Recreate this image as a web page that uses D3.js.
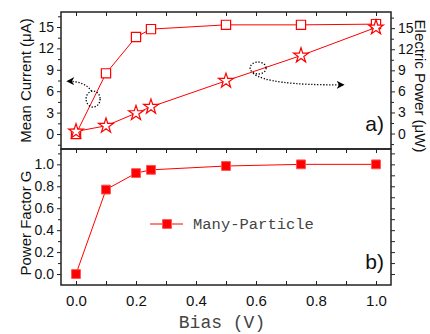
<!DOCTYPE html>
<html>
<head>
<meta charset="utf-8">
<script src="https://cdn.jsdelivr.net/npm/d3@7"></script>
<style>
  body { margin: 0; background: #fff; }
  svg { display: block; }
  .tick text { font-family: "Liberation Sans", Arial, sans-serif; font-size: 14px; fill: #111; }
  .xlab .tick text { font-size: 15px; }
  .domain { display: none; }
  .tick line { stroke: #222; stroke-width: 1; }
</style>
</head>
<body>
<svg id="chart" width="430" height="334"></svg>
<script>
// data
const bias = [0, 0.1, 0.2, 0.25, 0.5, 0.75, 1.0];
const meanCurrent = [0.0, 8.5, 13.6, 14.7, 15.3, 15.3, 15.4];
const electricPower = [0.3, 1.1, 2.9, 3.8, 7.5, 11.1, 15.1];
const powerFactor = [0.0, 0.77, 0.92, 0.95, 0.985, 1.0, 1.0];
const xTicks = [0, 0.2, 0.4, 0.6, 0.8, 1.0];
const topTicks = [0, 3, 6, 9, 12, 15];
const botTicks = [0, 0.2, 0.4, 0.6, 0.8, 1.0];

const svg = d3.select("#chart");
const pL = 61, pR = 391, pT = 12, pM = 149, pB = 285;
const red = "#ff0000";
const sans = "'Liberation Sans', Arial, sans-serif";
const mono = "'Courier New', 'Nimbus Mono PS', FreeMono, 'Liberation Mono', monospace";

const x = d3.scaleLinear().domain([-0.05, 1.05]).range([pL, pR]);
const yL = d3.scaleLinear().domain([-2.1, 17.1]).range([pM, pT]);
const yR = d3.scaleLinear().domain([-2.2, 17.3]).range([pM, pT]);
const yB = d3.scaleLinear().domain([-0.1, 1.14]).range([pB, pM]);

// x ticks: inward at top of each panel and bottom of lower panel
const xMinor = d3.range(0, 1.001, 0.1);
svg.append("g").attr("transform", `translate(0,${pT})`)
  .call(d3.axisTop(x).tickValues(xMinor).tickSize(-4).tickFormat(""));
svg.append("g").attr("transform", `translate(0,${pM})`)
  .call(d3.axisTop(x).tickValues(xMinor).tickSize(-4).tickFormat(""));
svg.append("g").attr("transform", `translate(0,${pB})`)
  .call(d3.axisBottom(x).tickValues(xMinor).tickSize(-4).tickFormat(""));
svg.append("g").attr("class", "xlab").attr("transform", `translate(0,${pB})`)
  .call(d3.axisBottom(x).tickValues(xTicks).tickSize(0).tickPadding(10).tickFormat(d3.format(".1f")));

// left axis top panel
svg.append("g").attr("transform", `translate(${pL},0)`)
  .call(d3.axisLeft(yL).tickValues(topTicks).tickSize(4).tickPadding(3).tickFormat(d3.format("d")));
svg.append("g").attr("transform", `translate(${pL},0)`)
  .call(d3.axisLeft(yL).tickValues(d3.range(-1.5, 17, 3)).tickSize(3).tickFormat(""));
// right axis top panel
svg.append("g").attr("transform", `translate(${pR},0)`)
  .call(d3.axisRight(yR).tickValues(topTicks).tickSize(4).tickPadding(3).tickFormat(d3.format("d")));
svg.append("g").attr("transform", `translate(${pR},0)`)
  .call(d3.axisRight(yR).tickValues(d3.range(-1.5, 17, 3)).tickSize(3).tickFormat(""));
// left axis bottom panel
svg.append("g").attr("transform", `translate(${pL},0)`)
  .call(d3.axisLeft(yB).tickValues(botTicks).tickSize(4).tickPadding(3).tickFormat(d3.format(".1f")));
svg.append("g").attr("transform", `translate(${pL},0)`)
  .call(d3.axisLeft(yB).tickValues(d3.range(0.1, 1.11, 0.2)).tickSize(3).tickFormat(""));
// right axis bottom panel (ticks only)
svg.append("g").attr("transform", `translate(${pR},0)`)
  .call(d3.axisRight(yB).tickValues(d3.range(0, 1.11, 0.1)).tickSize(4).tickFormat(""));

// frames
svg.append("rect").attr("x", pL).attr("y", pT).attr("width", pR - pL).attr("height", pM - pT)
  .attr("fill", "none").attr("stroke", "#222").attr("stroke-width", 1.5);
svg.append("rect").attr("x", pL).attr("y", pM).attr("width", pR - pL).attr("height", pB - pM)
  .attr("fill", "none").attr("stroke", "#222").attr("stroke-width", 1.5);

// lines
const idx = d3.range(bias.length);
const lineL = d3.line().x(i => x(bias[i])).y(i => yL(meanCurrent[i]));
const lineR = d3.line().x(i => x(bias[i])).y(i => yR(electricPower[i]));
const lineB = d3.line().x(i => x(bias[i])).y(i => yB(powerFactor[i]));

svg.append("path").attr("d", lineL(idx)).attr("fill", "none").attr("stroke", red).attr("stroke-width", 1);
svg.append("path").attr("d", lineR(idx)).attr("fill", "none").attr("stroke", red).attr("stroke-width", 1);
svg.append("path").attr("d", lineB(idx)).attr("fill", "none").attr("stroke", red).attr("stroke-width", 1);

const sq = d3.symbol().type(d3.symbolSquare).size(85);
const star = d3.symbol().type(d3.symbolStar).size(68);
const fsq = d3.symbol().type(d3.symbolSquare).size(78);

svg.append("g").selectAll("path").data(idx).join("path")
  .attr("d", sq).attr("transform", i => `translate(${x(bias[i])},${yL(meanCurrent[i])})`)
  .attr("fill", "white").attr("stroke", red).attr("stroke-width", 1.2);
svg.append("g").selectAll("path").data(idx).join("path")
  .attr("d", star).attr("transform", i => `translate(${x(bias[i])},${yR(electricPower[i])})`)
  .attr("fill", "white").attr("stroke", red).attr("stroke-width", 1.2);
svg.append("g").selectAll("path").data(idx).join("path")
  .attr("d", fsq).attr("transform", i => `translate(${x(bias[i])},${yB(powerFactor[i])})`)
  .attr("fill", red).attr("stroke", "#ff5555").attr("stroke-width", 1);

// annotation arrows
const defs = svg.append("defs");
defs.append("marker").attr("id", "ah").attr("viewBox", "0 0 10 10").attr("refX", 8).attr("refY", 5)
  .attr("markerWidth", 8).attr("markerHeight", 8).attr("markerUnits", "userSpaceOnUse").attr("orient", "auto")
  .append("path").attr("d", "M0,0 L10,5 L0,10 L3,5 Z").attr("fill", "#000");

const dotted = { stroke: "#000", "stroke-width": 1.3, "stroke-dasharray": "1.3,1.7", fill: "none" };
function styled(sel) { Object.entries(dotted).forEach(([k, v]) => sel.attr(k, v)); return sel; }

styled(svg.append("ellipse").attr("cx", x(0.057)).attr("cy", yL(4.9)).attr("rx", 7).attr("ry", 8));
styled(svg.append("path")
  .attr("d", `M${x(0.052)},${yL(6.0)} Q${x(0.03)},${yL(7.4)} ${x(-0.027)},${yL(7.4)}`))
  .attr("marker-end", "url(#ah)");

styled(svg.append("ellipse").attr("cx", x(0.607)).attr("cy", yL(9.25)).attr("rx", 8).attr("ry", 6));
styled(svg.append("path")
  .attr("d", `M${x(0.59)},${yL(8.5)} Q${x(0.64)},${yL(6.8)} ${x(0.89)},${yL(6.9)}`))
  .attr("marker-end", "url(#ah)");

// legend
const lg = svg.append("g").attr("transform", `translate(150,224)`);
lg.append("line").attr("x1", 0).attr("x2", 33).attr("stroke", red).attr("stroke-width", 1);
lg.append("path").attr("d", fsq).attr("transform", "translate(17,0)").attr("fill", red).attr("stroke", "#ff5555");
lg.append("text").attr("x", 43).attr("y", 5).text("Many-Particle")
  .attr("font-family", mono).attr("font-size", 15.5).attr("fill", "#444");

// panel labels
svg.append("text").attr("x", 384).attr("y", 131).attr("text-anchor", "end").text("a)")
  .attr("font-family", sans).attr("font-size", 21).attr("fill", "#111");
svg.append("text").attr("x", 384).attr("y", 269).attr("text-anchor", "end").text("b)")
  .attr("font-family", sans).attr("font-size", 21).attr("fill", "#111");

// axis titles
svg.append("text").attr("transform", `translate(31,${(pT + pM) / 2}) rotate(-90)`).attr("text-anchor", "middle")
  .attr("font-family", sans).attr("font-size", 15).attr("fill", "#111").text("Mean Current (\u03bcA)");
svg.append("text").attr("transform", `translate(31,${(pM + pB) / 2 + 6}) rotate(-90)`).attr("text-anchor", "middle")
  .attr("font-family", sans).attr("font-size", 15).attr("fill", "#111").text("Power Factor G");
svg.append("text").attr("transform", `translate(415,86) rotate(90)`).attr("text-anchor", "middle")
  .attr("font-family", sans).attr("font-size", 15).attr("fill", "#111").text("Electric Power (\u03bcW)");
svg.append("text").attr("x", 222).attr("y", 328).attr("text-anchor", "middle")
  .attr("font-family", mono).attr("font-size", 18).attr("fill", "#444").text("Bias (V)");
</script>
</body>
</html>
